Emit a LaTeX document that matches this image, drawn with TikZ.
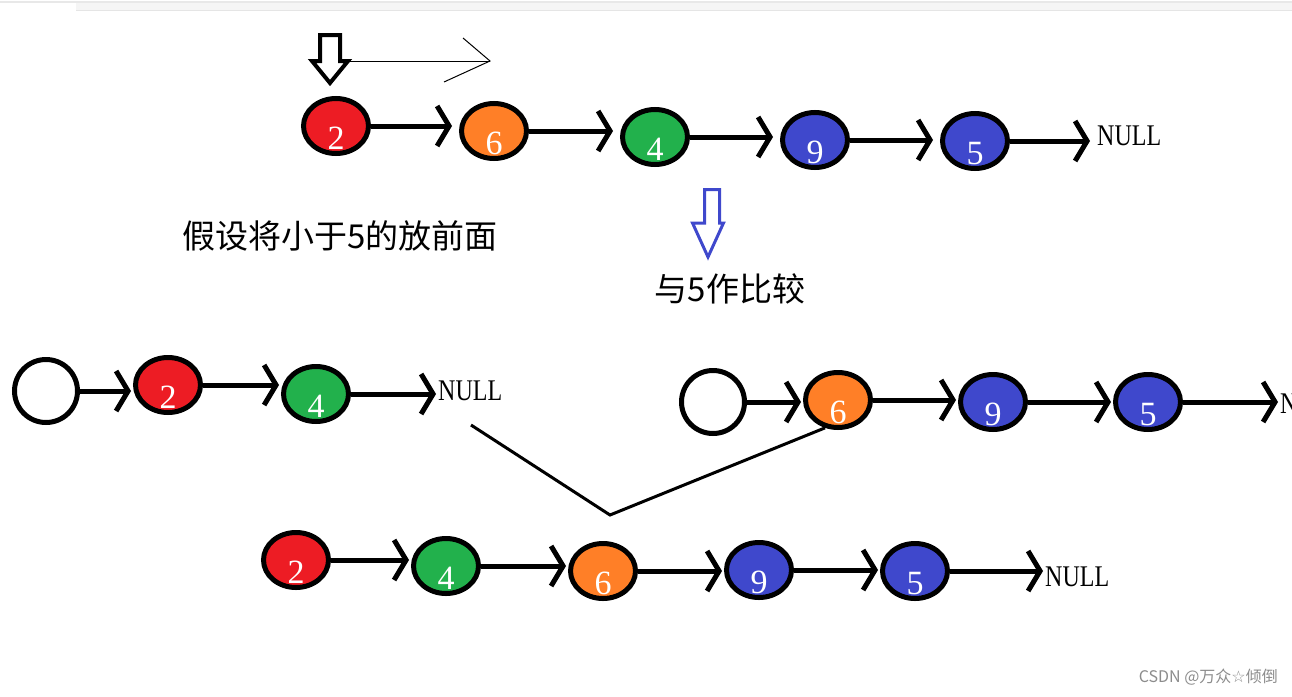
\documentclass[tikz,border=0pt]{standalone}
\usepackage{fontspec}
\setmainfont{Liberation Serif}
\newfontfamily\cjk{Noto Sans CJK SC}
\newfontfamily\symfont{DejaVu Sans}
\usetikzlibrary{shapes.geometric}
\usetikzlibrary{arrows.meta}
\definecolor{nodered}{RGB}{237,28,36}
\definecolor{nodeorange}{RGB}{255,127,39}
\definecolor{nodegreen}{RGB}{34,177,76}
\definecolor{nodeblue}{RGB}{63,72,204}
\tikzset{
	elem/.style={ellipse, draw=black, line width=5pt, fill=#1,
		minimum width=65pt, minimum height=55pt, inner sep=0pt,
		text=white, font=\fontsize{34}{34}\selectfont},
	headelem/.style={elem=white, minimum width=63pt, minimum height=63pt},
	link/.style={line width=5pt, -{Straight Barb[length=12pt, width=40pt]}, shorten >=2pt},
	nulltext/.style={anchor=west, inner sep=0pt, font=\fontsize{30}{30}\selectfont},
	cjktext/.style={inner sep=0pt, font=\cjk\fontsize{33}{33}\selectfont},
	merge/.style={line width=3pt},
	hollow/.style={line width=4pt, line join=miter}
}
\newcommand{\dig}[1]{\raisebox{-23pt}[0pt][0pt]{#1}}
\newcommand{\nulllabel}{\scalebox{0.8}[1]{NULL}}

\begin{document}
\begin{tikzpicture}[x=1pt, y=-1pt]
		\useasboundingbox (0,0) rectangle (1292,696);
		% window edge
		\draw[black!9, line width=2pt] (0,1.5) -- (1292,1.5);
		\fill[black!4] (76,3) rectangle (1292,10);
		\draw[black!10, line width=1pt] (76,10) -- (1292,10);
		
		% original list
		\node[elem=nodered] (t1) at (336,126) {\dig{2}};
		\node[elem=nodeorange] (t2) at (494,131) {\dig{6}};
		\node[elem=nodegreen] (t3) at (655,137) {\dig{4}};
		\node[elem=nodeblue] (t4) at (815,140) {\dig{9}};
		\node[elem=nodeblue] (t5) at (975,141) {\dig{5}};
		\node[nulltext] (tnull) at (1097,136) {\nulllabel};
		\draw[link, shorten >=7pt] (t1.east) -- (t1.east -| t2.west);
		\draw[link, shorten >=7pt] (t2.east) -- (t2.east -| t3.west);
		\draw[link, shorten >=7pt] (t3.east) -- (t3.east -| t4.west);
		\draw[link, shorten >=7pt] (t4.east) -- (t4.east -| t5.west);
		\draw[link, shorten >=7pt] (t5.east) -- (t5.east -| tnull.west);
		
		% pointer on the first element
		\draw[hollow] (320,35) -- (340,35) -- (340,61) -- (348,61) -- (330,83) -- (312,61) -- (320,61) -- cycle;
		\coordinate (move a) at (345,61);
		\coordinate (move b) at (490,61);
		\draw[line width=1pt] (move a) -- (move b);
		\draw[line width=1pt] (463,38) -- (move b) -- (444,82);
		
		\node[cjktext] (hint) at (340,236) {假设将小于5的放前面};
		\draw[hollow, nodeblue, line width=3pt] (704.5,189.5) -- (719.5,189.5) -- (719.5,223) -- (723.5,223) -- (708,257) -- (692.5,223) -- (704.5,223) -- cycle;
		\node[cjktext] (cmp) at (730,289) {与5作比较};
		
		% smaller than 5
		\node[headelem] (m0) at (46,391) {};
		\node[elem=nodered] (m1) at (168,385) {\dig{2}};
		\node[elem=nodegreen] (m2) at (316,394) {\dig{4}};
		\node[nulltext] (mnull) at (438,391) {\nulllabel};
		\draw[link] (m0.east) -- (m0.east -| m1.west);
		\draw[link] (m1.east) -- (m1.east -| m2.west);
		\draw[link] (m2.east) -- (m2.east -| mnull.west);
		
		% not smaller than 5
		\node[headelem] (r0) at (713,402) {};
		\node[elem=nodeorange] (r1) at (838,400) {\dig{6}};
		\node[elem=nodeblue] (r2) at (993,402) {\dig{9}};
		\node[elem=nodeblue] (r3) at (1148,402) {\dig{5}};
		\node[nulltext] (rnull) at (1280,404) {\nulllabel};
		\draw[link] (r0.east) -- (r0.east -| r1.west);
		\draw[link] (r1.east) -- (r1.east -| r2.west);
		\draw[link] (r2.east) -- (r2.east -| r3.west);
		\draw[link] (r3.east) -- (r3.east -| rnull.west);
		
		% joining both lists
		\coordinate (cut) at (471,425);
		\coordinate (joint) at (610,515);
		\draw[merge] (cut) -- (joint) -- (r1.245);
		
		% result
		\node[elem=nodered] (b1) at (296,560) {\dig{2}};
		\node[elem=nodegreen] (b2) at (446,566) {\dig{4}};
		\node[elem=nodeorange] (b3) at (603,571) {\dig{6}};
		\node[elem=nodeblue] (b4) at (759,570) {\dig{9}};
		\node[elem=nodeblue] (b5) at (915,571) {\dig{5}};
		\node[nulltext] (bnull) at (1045,577) {\nulllabel};
		\draw[link] (b1.east) -- (b1.east -| b2.west);
		\draw[link] (b2.east) -- (b2.east -| b3.west);
		\draw[link] (b3.east) -- (b3.east -| b4.west);
		\draw[link] (b4.east) -- (b4.east -| b5.west);
		\draw[link] (b5.east) -- (b5.east -| bnull.west);
		
		\node[anchor=east, inner sep=0pt, text=black!45, font=\cjk\fontsize{16}{16}\selectfont] (mark) at (1278,677) {CSDN @万众{\symfont ☆}倾倒};
	\end{tikzpicture}
\end{document}
